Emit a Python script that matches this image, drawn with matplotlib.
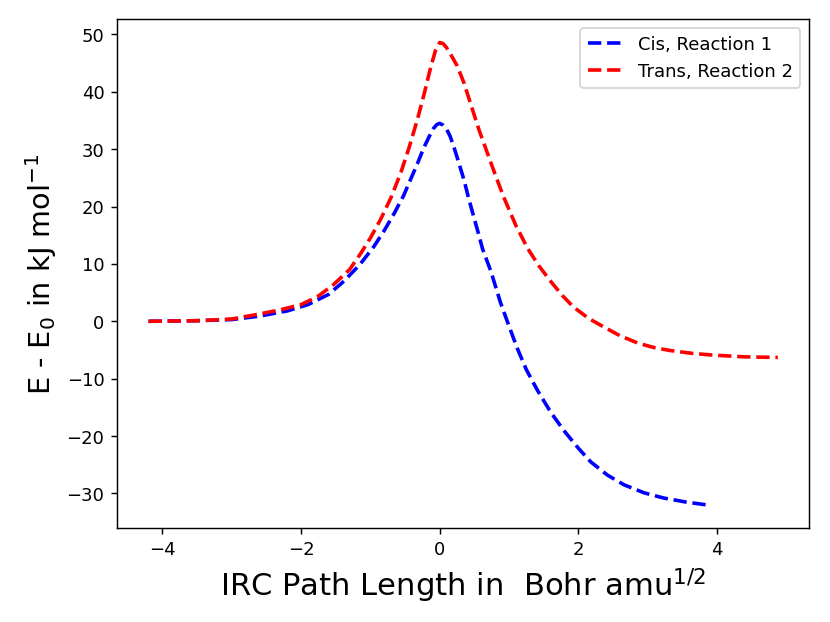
import matplotlib.pyplot as plt

# IRC path data
cis_x = [-4.2, -3.5, -3.0, -2.6, -2.2, -1.9, -1.6, -1.38, -1.15, -0.95, -0.8, -0.66,
         -0.52, -0.42, -0.32, -0.23, -0.15, -0.09, -0.04, 0.0, 0.05, 0.1, 0.15, 0.2,
         0.27, 0.35, 0.42, 0.49, 0.56, 0.62, 0.74, 0.88, 1.0, 1.12, 1.25, 1.41, 1.6,
         1.79, 2.0, 2.18, 2.42, 2.66, 2.95, 3.23, 3.55, 3.85]
cis_y = [0.0, 0.1, 0.3, 0.9, 1.8, 2.9, 4.7, 7.0, 9.9, 13.0, 15.8, 18.7,
         21.9, 24.7, 27.5, 30.2, 32.2, 33.6, 34.3, 34.5, 34.2, 33.5, 32.3, 30.6,
         27.9, 24.7, 21.4, 18.3, 15.3, 12.6, 8.7, 3.2, -0.8, -4.7, -8.4, -12.0, -15.8,
         -19.0, -22.1, -24.5, -26.8, -28.5, -29.9, -30.8, -31.5, -32.0]

trans_x = [-4.2, -3.5, -3.0, -2.63, -2.3, -2.0, -1.75, -1.53, -1.3, -1.14, -1.0, -0.85,
           -0.7, -0.56, -0.44, -0.32, -0.22, -0.13, -0.06, 0.0, 0.05, 0.1, 0.17, 0.25,
           0.35, 0.45, 0.57, 0.69, 0.81, 0.93, 1.1, 1.27, 1.43, 1.6, 1.77, 1.93, 2.15,
           2.37, 2.6, 2.86, 3.1, 3.33, 3.65, 3.95, 4.4, 4.88]
trans_y = [0.0, 0.1, 0.4, 1.2, 2.0, 2.9, 4.4, 6.4, 9.0, 11.8, 14.5, 17.8,
           21.6, 25.9, 30.3, 35.2, 39.8, 44.2, 47.2, 48.6, 48.4, 47.7, 46.3, 44.6,
           41.6, 37.8, 33.3, 29.3, 25.3, 21.5, 16.7, 12.7, 9.7, 7.0, 4.5, 2.5, 0.5,
           -1.0, -2.5, -3.8, -4.6, -5.1, -5.6, -5.9, -6.2, -6.3]

fig = plt.figure(figsize=(6.4, 4.8), dpi=129.7)
ax = fig.add_subplot(111)
fig.subplots_adjust(left=0.141, right=0.975, top=0.968, bottom=0.151)

ax.plot(cis_x, cis_y, 'b--', lw=2, label='Cis, Reaction 1')
ax.plot(trans_x, trans_y, 'r--', lw=2, label='Trans, Reaction 2')

ax.set_xlabel(r'IRC Path Length in  Bohr amu$^{1/2}$', fontsize=17)
ax.set_ylabel(r'E - E$_0$ in kJ mol$^{-1}$', fontsize=16)
ax.legend(loc='upper right')

fig.savefig('out.png', dpi=129.7)
